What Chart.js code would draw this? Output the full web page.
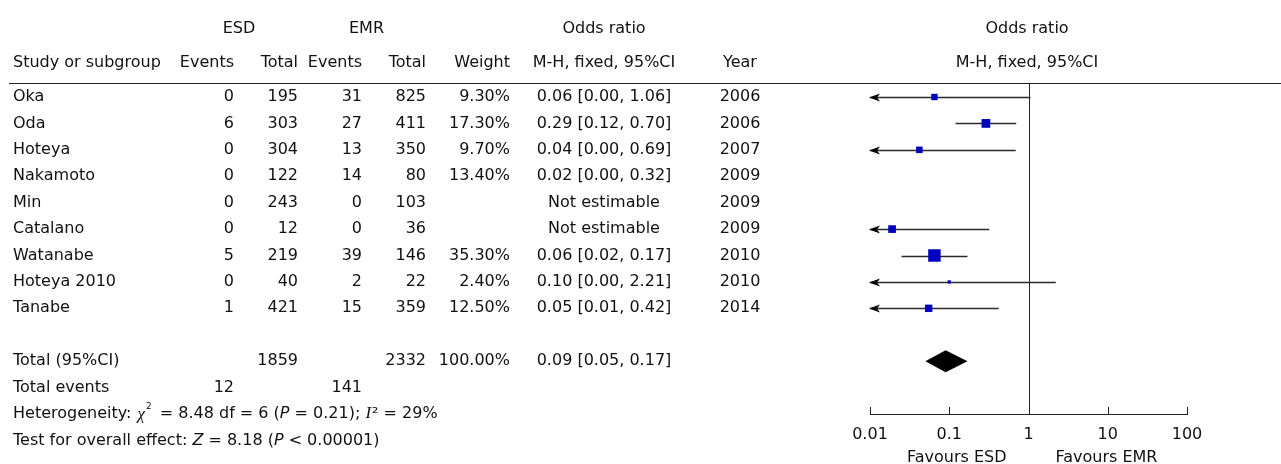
<!DOCTYPE html>
<html><head><meta charset="utf-8">
<script src="https://cdn.jsdelivr.net/npm/chart.js@4.4.1/dist/chart.umd.min.js"></script>
<style>html,body{margin:0;padding:0;background:#fff;overflow:hidden}
#wrap{position:relative;width:1281px;height:464px}</style>
</head><body><div id="wrap"><canvas id="c" width="1281" height="464"></canvas></div>
<script>
// ---- table data ----
const studies   = ['Oka','Oda','Hoteya','Nakamoto','Min','Catalano','Watanabe','Hoteya 2010','Tanabe'];
const esdEvents = [0,6,0,0,0,0,5,0,1];
const esdTotal  = [195,303,304,122,243,12,219,40,421];
const emrEvents = [31,27,13,14,0,0,39,2,15];
const emrTotal  = [825,411,350,80,103,36,146,22,359];
const weights   = [9.3,17.3,9.7,13.4,null,null,35.3,2.4,12.5];
const orValue   = [0.06,0.29,0.04,0.02,null,null,0.06,0.10,0.05];
const ciLow     = [0.00,0.12,0.00,0.00,null,null,0.02,0.00,0.01];
const ciHigh    = [1.06,0.70,0.69,0.32,null,null,0.17,2.21,0.42];
const years     = [2006,2006,2007,2009,2009,2009,2010,2010,2014];
// ---- forest plot as drawn (per row) ----
const plotOR     = [0.065,0.29,0.042,null,null,0.019,0.065,0.10,0.055];
const plotLow    = [0.004,0.12,0.003,null,null,0.002,0.025,0.002,0.007];
const plotHigh   = [1.06,0.70,0.69,null,null,0.32,0.17,2.21,0.42];
const plotWeight = [9.3,17.3,9.7,null,null,13.4,35.3,2.4,12.5];
// ---- totals ----
const totals      = [1859,2332];        // ESD, EMR
const totalEvents = [12,141];           // ESD, EMR
const totalWeight = [100.00];
const totalCI     = [0.09,0.05,0.17];   // OR, low, high
const heterogeneity = [8.48,6,0.21,29]; // chi2, df, P, I2
const overallEffect = [8.18];           // Z
// ---- axis ----
const tickValues = [0.01,0.1,1,10,100];
const tickLabels = ['0.01','0.1','1','10','100'];

const FONT = '"DejaVu Sans", Verdana, sans-serif';
const FS = 16;
const TXT = '#111';
const LINE = '#222';
const TOTAL_ROW = 10;

const markerData = [];
const markerRadius = [];
plotOR.forEach((v,i)=>{ if(v!=null){ markerData.push({x:v,y:i}); const side = 2.1*Math.sqrt(plotWeight[i]); markerRadius.push(side/(2*Math.SQRT1_2)); }});

function fmtOR(o,l,h){ return o==null ? 'Not estimable' : `${o.toFixed(2)} [${l.toFixed(2)}, ${h.toFixed(2)}]`; }

function txt(ctx,s,x,y,align,font){
  ctx.font = font || `${FS}px ${FONT}`;
  ctx.textAlign = align||'left';
  ctx.textBaseline = 'middle';
  ctx.fillStyle = TXT;
  ctx.fillText(s,x,y);
}
function runs(ctx,x,y,parts){
  ctx.textBaseline='middle'; ctx.textAlign='left'; ctx.fillStyle=TXT;
  for(const p of parts){
    ctx.font = p.f || `${FS}px ${FONT}`;
    ctx.fillText(p.t, x, y + (p.dy||0));
    x += ctx.measureText(p.t).width + (p.gap||0);
  }
}
const crisp = v => Math.round(v) + 0.5;

const forest = {
  id:'forest',
  beforeDatasetsDraw(chart){
    const ctx = chart.ctx, xs = chart.scales.x, ys = chart.scales.y, ca = chart.chartArea;
    ctx.save();
    // header rule
    ctx.strokeStyle = LINE; ctx.lineWidth = 1;
    ctx.beginPath(); ctx.moveTo(9, crisp(ca.top)); ctx.lineTo(1281, crisp(ca.top)); ctx.stroke();
    // line of no effect
    const x1 = crisp(xs.getPixelForValue(1));
    ctx.beginPath(); ctx.moveTo(x1, ca.top); ctx.lineTo(x1, ca.bottom); ctx.stroke();
    // whiskers
    plotOR.forEach((v,i)=>{
      if(v==null) return;
      const y = crisp(ys.getPixelForValue(i));
      const clipped = plotLow[i] < xs.min;
      const xa = clipped ? ca.left : xs.getPixelForValue(plotLow[i]);
      const xb = xs.getPixelForValue(Math.min(plotHigh[i], xs.max));
      ctx.strokeStyle = '#2a2a2a'; ctx.lineWidth = 1.4;
      ctx.beginPath(); ctx.moveTo(xa, y); ctx.lineTo(xb, y); ctx.stroke();
      if(clipped){
        const t = ca.left - 1;
        ctx.fillStyle = '#000';
        ctx.beginPath(); ctx.moveTo(t, y); ctx.lineTo(t+11, y-4); ctx.lineTo(t+8, y); ctx.lineTo(t+11, y+4); ctx.closePath(); ctx.fill();
      }
    });
    // diamond
    const yt = ys.getPixelForValue(TOTAL_ROW);
    ctx.fillStyle = '#000';
    ctx.beginPath();
    ctx.moveTo(xs.getPixelForValue(totalCI[1]), yt);
    ctx.lineTo(xs.getPixelForValue(totalCI[0]), yt-11);
    ctx.lineTo(xs.getPixelForValue(totalCI[2]), yt);
    ctx.lineTo(xs.getPixelForValue(totalCI[0]), yt+11);
    ctx.closePath(); ctx.fill();
    // upward tick marks
    ctx.strokeStyle = LINE; ctx.lineWidth = 1;
    tickValues.forEach(v=>{ const x = crisp(xs.getPixelForValue(v)); ctx.beginPath(); ctx.moveTo(x, ca.bottom); ctx.lineTo(x, ca.bottom-7); ctx.stroke(); });
    ctx.restore();
  },
  afterDraw(chart){
    const ctx = chart.ctx, xs = chart.scales.x, ys = chart.scales.y, ca = chart.chartArea;
    ctx.save();
    const C = {study:13, ee:234, et:298, me:362, mt:426, w:510, or:604, yr:740};
    const plotC = (ca.left+ca.right)/2 - 1.5;
    // headers
    txt(ctx,'ESD',(180+C.et)/2,29,'center');
    txt(ctx,'EMR',(307+C.mt)/2,29,'center');
    txt(ctx,'Odds ratio',C.or,29,'center');
    txt(ctx,'Odds ratio',plotC,29,'center');
    txt(ctx,'Study or subgroup',C.study,63,'left');
    txt(ctx,'Events',C.ee,63,'right');
    txt(ctx,'Total',C.et,63,'right');
    txt(ctx,'Events',C.me,63,'right');
    txt(ctx,'Total',C.mt,63,'right');
    txt(ctx,'Weight',C.w,63,'right');
    txt(ctx,'M-H, fixed, 95%CI',C.or,63,'center');
    txt(ctx,'Year',C.yr,63,'center');
    txt(ctx,'M-H, fixed, 95%CI',plotC,63,'center');
    // rows
    studies.forEach((s,i)=>{
      const y = ys.getPixelForValue(i);
      txt(ctx,s,C.study,y,'left');
      txt(ctx,String(esdEvents[i]),C.ee,y,'right');
      txt(ctx,String(esdTotal[i]),C.et,y,'right');
      txt(ctx,String(emrEvents[i]),C.me,y,'right');
      txt(ctx,String(emrTotal[i]),C.mt,y,'right');
      if(weights[i]!=null) txt(ctx,weights[i].toFixed(2)+'%',C.w,y,'right');
      txt(ctx,fmtOR(orValue[i],ciLow[i],ciHigh[i]),C.or,y,'center');
      txt(ctx,String(years[i]),C.yr,y,'center');
    });
    // totals
    let y = ys.getPixelForValue(TOTAL_ROW);
    txt(ctx,'Total (95%CI)',C.study,y,'left');
    txt(ctx,String(totals[0]),C.et,y,'right');
    txt(ctx,String(totals[1]),C.mt,y,'right');
    txt(ctx,totalWeight[0].toFixed(2)+'%',C.w,y,'right');
    txt(ctx,fmtOR(totalCI[0],totalCI[1],totalCI[2]),C.or,y,'center');
    y = ys.getPixelForValue(TOTAL_ROW+1);
    txt(ctx,'Total events',C.study,y,'left');
    txt(ctx,String(totalEvents[0]),C.ee,y,'right');
    txt(ctx,String(totalEvents[1]),C.me,y,'right');
    y = ys.getPixelForValue(TOTAL_ROW+2);
    const it = `italic ${FS}px ${FONT}`;
    const serifIt = `italic ${FS+1}px "Liberation Serif", serif`;
    runs(ctx,C.study,y,[
      {t:'Heterogeneity: ', gap:1},
      {t:'\u03C7', f:serifIt, gap:1, dy:1},
      {t:'2', f:`9px ${FONT}`, dy:-7, gap:3},
      {t:` = ${heterogeneity[0].toFixed(2)} df = ${heterogeneity[1]} (`},
      {t:'P', f:it},
      {t:` = ${heterogeneity[2].toFixed(2)}); `},
      {t:'I', f:serifIt, gap:1},
      {t:`\u00B2 = ${heterogeneity[3]}%`}
    ]);
    y = ys.getPixelForValue(TOTAL_ROW+3);
    runs(ctx,C.study,y,[
      {t:'Test for overall effect: '},
      {t:'Z', f:it},
      {t:` = ${overallEffect[0].toFixed(2)} (`},
      {t:'P', f:it},
      {t:' < 0.00001)'}
    ]);
    // favours labels
    const x1 = xs.getPixelForValue(1);
    ctx.font = `${FS}px ${FONT}`; ctx.fillStyle = TXT; ctx.textBaseline='alphabetic';
    ctx.textAlign='right'; ctx.fillText('Favours ESD', x1-22, 462);
    ctx.textAlign='left'; ctx.fillText('Favours EMR', x1+27, 462);
    ctx.restore();
  }
};

new Chart(document.getElementById('c'),{
  type:'scatter',
  data:{datasets:[{
    data: markerData,
    pointStyle:'rect',
    pointRadius: markerRadius,
    pointBorderWidth:0,
    backgroundColor:'#0000c0',
    borderColor:'#0000c0'
  }]},
  options:{
    responsive:false, animation:false, events:[],
    layout:{padding:{left:870,right:94,top:83,bottom:0}},
    plugins:{legend:{display:false},tooltip:{enabled:false}},
    scales:{
      x:{type:'logarithmic',min:0.01,max:100,position:'bottom',
        afterBuildTicks:s=>{ s.ticks = tickValues.map(v=>({value:v})); },
        afterFit:s=>{ s.height = 50; },
        grid:{display:false,drawTicks:false},
        border:{display:true,color:LINE,width:1},
        ticks:{autoSkip:false,maxRotation:0,padding:11,color:TXT,font:{family:'DejaVu Sans',size:FS},
          callback:(v,i)=>tickLabels[i]}
      },
      y:{type:'linear',min:-0.53,max:12,reverse:true,display:false}
    }
  },
  plugins:[forest]
});
</script></body></html>
